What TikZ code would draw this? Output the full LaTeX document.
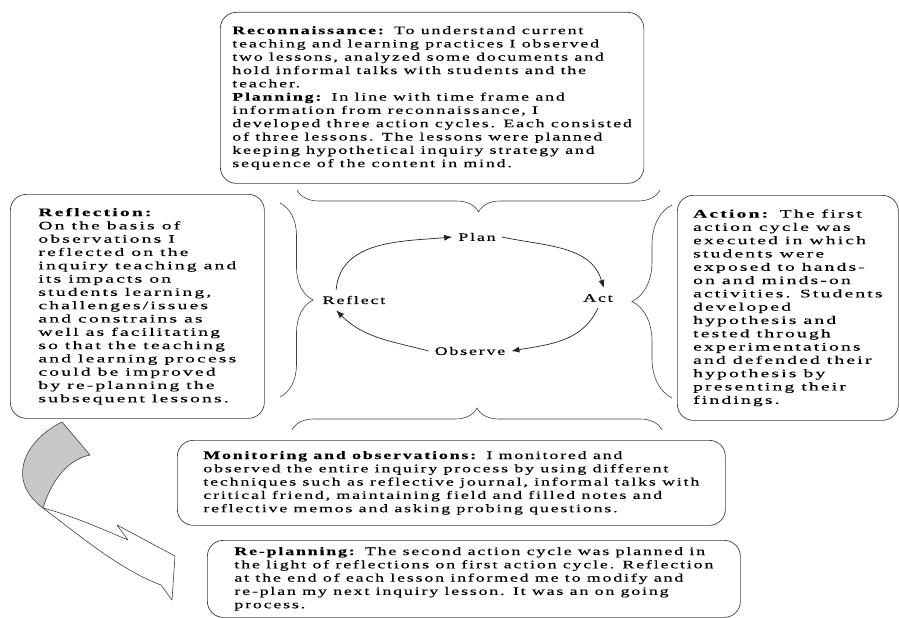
\documentclass[tikz,border=0pt]{standalone}
\usepackage{fontspec}
\setmainfont{Liberation Serif}
\newfontfamily\widefont{Liberation Serif}[FakeStretch=1.55,LetterSpace=16,FakeBold=0.3]
\newfontfamily\colfont{Liberation Serif}[FakeStretch=1.7,LetterSpace=19,FakeBold=0.3]
\usetikzlibrary{arrows.meta,decorations.pathreplacing}
\tikzset{
  >={Latex[length=8pt,width=6pt]},
}
\tikzstyle{textbox}=[draw=black!75,line width=.7pt,rounded corners=16pt,anchor=north west,align=left,inner xsep=18pt,inner ysep=6pt]
\tikzstyle{widebox}=[textbox,font=\widefont\fontsize{11.5}{13.3}\selectfont]
\tikzstyle{colbox}=[textbox,font=\colfont\fontsize{11.5}{13.3}\selectfont]
\tikzstyle{stage}=[font=\widefont\fontsize{11.5}{13.3}\selectfont,inner sep=6pt]
\tikzstyle{turn}=[->,line width=.7pt,black!85]
\tikzstyle{curly}=[decorate,line width=.6pt,black!75]
\tikzstyle{ribbon}=[line width=.6pt,draw=black!75,line join=round]

\begin{document}
\begin{tikzpicture}[x=1pt,y=-1pt]
    \useasboundingbox (0,0) rectangle (899,618);
    \node[widebox,inner xsep=12pt,minimum width=420pt,minimum height=171pt] (recon) at (220,12)
      {\textbf{Reconnaissance:} To understand current\\
       teaching and learning practices I observed\\
       two lessons, analyzed some documents and\\
       hold informal talks with students and the\\
       teacher.\\
       \textbf{Planning:} In line with time frame and\\
       information from reconnaissance, I\\
       developed three action cycles. Each consisted\\
       of three lessons. The lessons were planned\\
       keeping hypothetical inquiry strategy and\\
       sequence of the content in mind.};
    \node[colbox,minimum width=254pt,minimum height=224pt] (reflection) at (10,194)
      {\textbf{Reflection:}\\ On the basis of\\ observations I\\ reflected on the\\
       inquiry teaching and\\ its impacts on\\ students learning,\\ challenges/issues\\
       and constrains as\\ well as facilitating\\ so that the teaching\\
       and learning process\\ could be improved\\ by re-planning the\\ subsequent lessons.};
    \node[colbox,inner xsep=10pt,minimum width=221pt,minimum height=225pt] (action) at (677,195)
      {\textbf{Action:} The first\\ action cycle was\\ executed in which\\ students were\\
       exposed to hands-\\ on and minds-on\\ activities. Students\\ developed\\
       hypothesis and\\ tested through\\ experimentations\\ and defended their\\
       hypothesis by\\ presenting their\\ findings.};
    \node[widebox,minimum width=548pt,minimum height=85pt] (monitor) at (177,440)
      {\textbf{Monitoring and observations:} I monitored and\\
       observed the entire inquiry process by using different\\
       techniques such as reflective journal, informal talks with\\
       critical friend, maintaining field and filled notes and\\
       reflective memos and asking probing questions.};
    \node[widebox,minimum width=533pt,minimum height=77pt] (replan) at (207,540)
      {\textbf{Re-planning:} The second action cycle was planned in\\
       the light of reflections on first action cycle. Reflection\\
       at the end of each lesson informed me to modify and\\
       re-plan my next inquiry lesson. It was an on going\\
       process.};

    \node[stage] (plan) at (477,237) {Plan};
    \node[stage] (act) at (598,298) {Act};
    \node[stage] (observe) at (470,351) {Observe};
    \node[stage] (reflect) at (354,300) {Reflect};
    \draw[turn] (reflect.150) to[out=85,in=185] (plan.west);
    \draw[turn] (plan.east) to[out=-12,in=107] (act.60);
    \draw[turn] (act.south) to[out=-115,in=10] (observe.east);
    \draw[turn] (observe.west) to[out=165,in=-45] (reflect.-150);

    \draw[curly,decoration={brace,amplitude=22pt}] (660,190) -- (297,190);
    \draw[curly,decoration={brace,amplitude=22pt}] (292,430) -- (662,430);
    \draw[curly,decoration={brace,amplitude=33pt}] (280,203) -- (280,397);
    \draw[curly,decoration={brace,amplitude=40pt}] (672,398) -- (672,205);

    \filldraw[ribbon,fill=black!22] (62,422) .. controls (25,440) and (5,480) .. (43,508)
      .. controls (50,485) and (65,460) .. (90,455) -- cycle;
    \filldraw[ribbon,fill=white] (43,508) .. controls (70,515) and (100,528) .. (128,540)
      -- (117,525) -- (175,556) -- (172,600) -- (161,585)
      .. controls (120,570) and (75,532) .. (43,508) -- cycle;
\end{tikzpicture}
\end{document}
